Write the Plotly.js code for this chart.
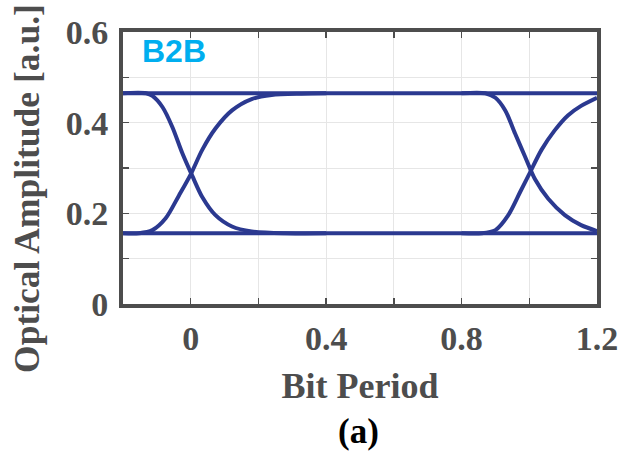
<!DOCTYPE html>
<html>
<head>
<meta charset="utf-8">
<script src="https://cdn.plot.ly/plotly-3.0.1.min.js"></script>
<style>html,body{margin:0;padding:0;background:#fff;}</style>
</head>
<body>
<div id="chart" style="width:636px;height:451px;"></div>
<script>
// Eye diagram levels
var levelX = [-0.2, 1.2];
var highLevel = [0.465, 0.465];
var lowLevel = [0.156, 0.156];

// Transition around bit boundary 0
var fall1X = [-0.2, -0.132, -0.113, -0.083, -0.054, -0.025, 0.005, 0.034, 0.073, 0.122, 0.180, 0.278, 0.4];
var fall1Y = [0.465, 0.465, 0.459, 0.434, 0.390, 0.333, 0.282, 0.236, 0.196, 0.171, 0.160, 0.156, 0.156];
var rise1X = [-0.2, -0.153, -0.113, -0.074, -0.035, 0.0, 0.034, 0.073, 0.122, 0.180, 0.239, 0.327, 0.4];
var rise1Y = [0.156, 0.156, 0.163, 0.189, 0.239, 0.286, 0.340, 0.387, 0.427, 0.452, 0.461, 0.464, 0.465];

// Transition around bit boundary 1
var fall2X = [0.8, 0.870, 0.900, 0.929, 0.958, 0.987, 1.017, 1.056, 1.105, 1.153, 1.2];
var fall2Y = [0.465, 0.465, 0.455, 0.427, 0.376, 0.326, 0.275, 0.232, 0.196, 0.174, 0.161];
var rise2X = [0.8, 0.860, 0.900, 0.938, 0.973, 1.002, 1.036, 1.075, 1.114, 1.153, 1.2];
var rise2Y = [0.156, 0.156, 0.163, 0.196, 0.247, 0.290, 0.340, 0.383, 0.416, 0.437, 0.455];

var xTickVals = [0, 0.4, 0.8, 1.2];
var xTickText = ['0', '0.4', '0.8', '1.2'];
var yTickVals = [0, 0.2, 0.4, 0.6];
var yTickText = ['0', '0.2', '0.4', '0.6'];

var lineColor = '#2b3990';
var axisColor = '#4d4d4d';
var gridColor = '#e6e6e6';

function tr(x, y) {
  return {x: x, y: y, type: 'scatter', mode: 'lines',
    line: {color: lineColor, width: 4, shape: 'spline', smoothing: 0.8},
    hoverinfo: 'skip', showlegend: false};
}

var data = [
  tr(levelX, highLevel), tr(levelX, lowLevel),
  tr(fall1X, fall1Y), tr(rise1X, rise1Y),
  tr(fall2X, fall2Y), tr(rise2X, rise2Y)
];

var tickFont = {family: 'Liberation Serif', size: 34, color: axisColor, weight: 'bold'};

var layout = {
  width: 636, height: 451,
  margin: {l: 123, r: 39, t: 32, b: 147},
  paper_bgcolor: '#ffffff', plot_bgcolor: '#ffffff',
  xaxis: {
    range: [-0.2, 1.2], tickmode: 'array', tickvals: xTickVals, ticktext: xTickText,
    ticks: 'inside', ticklen: 6, tickcolor: axisColor, tickwidth: 1.5,
    showline: true, linewidth: 4, linecolor: axisColor, mirror: 'ticks',
    showgrid: true, gridcolor: gridColor, gridwidth: 1, zeroline: false,
    minor: {dtick: 0.2, tick0: 0, ticks: 'inside', ticklen: 6, tickcolor: axisColor, showgrid: true, gridcolor: gridColor},
    tickfont: tickFont, ticklabelstandoff: 1,
    title: {text: 'Bit Period', font: {family: 'Liberation Serif', size: 36, color: axisColor, weight: 'bold'}, standoff: 18},
    automargin: false, fixedrange: true
  },
  yaxis: {
    range: [0, 0.6], tickmode: 'array', tickvals: yTickVals, ticktext: yTickText,
    ticks: 'inside', ticklen: 6, tickcolor: axisColor, tickwidth: 1.5,
    showline: true, linewidth: 4, linecolor: axisColor, mirror: 'ticks',
    showgrid: true, gridcolor: gridColor, gridwidth: 1, zeroline: false,
    minor: {dtick: 0.1, tick0: 0, ticks: 'inside', ticklen: 6, tickcolor: axisColor, showgrid: true, gridcolor: gridColor},
    tickfont: tickFont, ticklabelstandoff: 4,
    automargin: false, fixedrange: true
  },
  annotations: [
    {text: 'B2B', xref: 'paper', yref: 'paper', x: 0.036, y: 0.93, xanchor: 'left', yanchor: 'middle',
     showarrow: false, font: {family: 'Liberation Sans', size: 32, color: '#00aeef', weight: 'bold'}},
    {text: 'Optical Amplitude [a.u.]', xref: 'paper', yref: 'paper', x: -0.2025, y: 0.423,
     xanchor: 'center', yanchor: 'middle', textangle: -90, showarrow: false,
     font: {family: 'Liberation Serif', size: 35.5, color: axisColor, weight: 'bold'}},
    {text: '(a)', xref: 'paper', yref: 'paper', x: 0.496, y: -0.468, xanchor: 'center', yanchor: 'middle',
     showarrow: false, font: {family: 'Liberation Serif', size: 35, color: '#000000', weight: 'bold'}}
  ]
};

Plotly.newPlot('chart', data, layout, {displayModeBar: false, staticPlot: true});
</script>
</body>
</html>
